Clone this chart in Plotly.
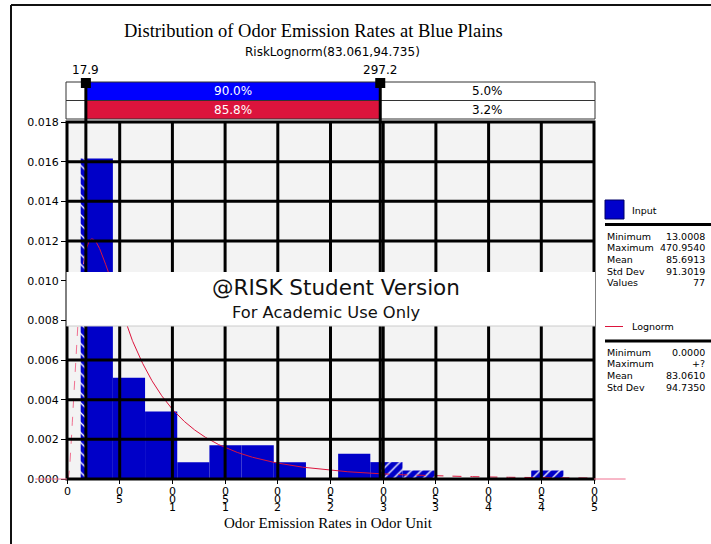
import numpy as np
import plotly.graph_objects as go

# ---------------- data ----------------
hist_min = 13.0008
hist_max = 470.9540
bin_counts = [38, 12, 8, 2, 4, 4, 2, 0, 3, 2, 1, 0, 0, 0, 1]
n_values = 77

fit_mean = 83.061
fit_sd = 94.735

mark_lo = 17.9
mark_hi = 297.2
input_pcts = [5.0, 90.0, 5.0]
fit_pcts = [11.0, 85.8, 3.2]

x_ticks = [0, 50, 100, 150, 200, 250, 300, 350, 400, 450, 500]
x_tick_labels = ["0", "50", "100", "150", "200", "250", "300", "350", "400", "450", "500"]
y_ticks = [0.000, 0.002, 0.004, 0.006, 0.008, 0.010, 0.012, 0.014, 0.016, 0.018]

input_stat_names = ["Minimum", "Maximum", "Mean", "Std Dev", "Values"]
input_stat_vals = ["13.0008", "470.9540", "85.6913", "91.3019", "77"]
fit_stat_names = ["Minimum", "Maximum", "Mean", "Std Dev"]
fit_stat_vals = ["0.0000", "+?", "83.0610", "94.7350"]

title_text = "Distribution of Odor Emission Rates at Blue Plains"
subtitle_text = "RiskLognorm(83.061,94.735)"
xaxis_title = "Odor Emission Rates in Odor Unit"
wm_line1 = "@RISK Student Version"
wm_line2 = "For Academic Use Only"

# ---------------- geometry ----------------
W, H = 711, 544
L, R, T, B = 67, 117, 122, 65
PW, PH = W - L - R, H - T - B
XMIN, XMAX = 0, 500


def px_x(px):
    return (px - L) / PW


def px_y(py):
    return (H - B - py) / PH


def dx(v):
    return (v - XMIN) / (XMAX - XMIN)


SANS = "DejaVu Sans"
SERIF = "Liberation Serif"
BAR_BLUE = "#0000C8"
CRIMSON = "#DC143C"

fig = go.Figure()

# ---------------- histogram ----------------
edges = np.linspace(hist_min, hist_max, len(bin_counts) + 1)
bw = edges[1] - edges[0]
dens = np.array(bin_counts) / (n_values * bw)

solid, left_h, right_h = [], [], []
for i, c in enumerate(bin_counts):
    if c == 0:
        continue
    a, b = edges[i], edges[i + 1]
    s0, s1 = max(a, mark_lo), min(b, mark_hi)
    if s1 > s0:
        solid.append((s0, s1, dens[i]))
    if a < mark_lo:
        left_h.append((a, min(b, mark_lo), dens[i]))
    if b > mark_hi:
        right_h.append((max(a, mark_hi), b, dens[i]))


def add_bars(pieces, pattern=None):
    if not pieces:
        return
    xs = [(p[0] + p[1]) / 2 for p in pieces]
    ws = [p[1] - p[0] for p in pieces]
    ys = [p[2] for p in pieces]
    marker = dict(color=BAR_BLUE, line=dict(width=0))
    if pattern:
        marker["pattern"] = dict(shape=pattern, fgcolor="white", bgcolor=BAR_BLUE,
                                 size=7, solidity=0.18, fillmode="replace")
    fig.add_trace(go.Bar(x=xs, y=ys, width=ws, marker=marker, showlegend=False,
                         hoverinfo="skip"))


add_bars(solid)
add_bars(left_h, "\\")
add_bars(right_h, "/")

# ---------------- lognormal fit ----------------
sig2 = np.log(1 + (fit_sd / fit_mean) ** 2)
sig = np.sqrt(sig2)
mu = np.log(fit_mean) - sig2 / 2
xs = np.linspace(0.05, XMAX, 2000)
pdf = np.exp(-(np.log(xs) - mu) ** 2 / (2 * sig2)) / (xs * sig * np.sqrt(2 * np.pi))
xs = np.concatenate([[0.0], xs])
pdf = np.concatenate([[0.0], pdf])

m_left = xs <= mark_lo
m_mid = (xs >= mark_lo) & (xs <= mark_hi)
m_right = xs >= mark_hi
fig.add_trace(go.Scatter(x=xs[m_left], y=pdf[m_left], mode="lines",
                         line=dict(color="#F07090", width=1, dash="dash"),
                         showlegend=False, hoverinfo="skip"))
fig.add_trace(go.Scatter(x=xs[m_mid], y=pdf[m_mid], mode="lines",
                         line=dict(color=CRIMSON, width=1),
                         showlegend=False, hoverinfo="skip"))
fig.add_trace(go.Scatter(x=xs[m_right], y=pdf[m_right], mode="lines",
                         line=dict(color=CRIMSON, width=1, dash="dash"),
                         showlegend=False, hoverinfo="skip"))

shapes = []
ann = []


def text(x, y, t, size, family=SANS, color="black", xanchor="center", xref="paper",
         yshift=0):
    ann.append(dict(xref=xref, yref="paper", x=x, y=y, text=t, showarrow=False,
                    xanchor=xanchor, yanchor="middle", yshift=yshift,
                    font=dict(family=family, size=size, color=color)))


# grid lines drawn above bars
for v in x_ticks[1:-1]:
    shapes.append(dict(type="line", xref="x", yref="paper", x0=v, x1=v, y0=0, y1=1,
                       line=dict(color="black", width=3), layer="above"))
for v in y_ticks[1:-1]:
    shapes.append(dict(type="line", xref="paper", yref="y", x0=0, x1=1, y0=v, y1=v,
                       line=dict(color="black", width=3), layer="above"))
# frame
shapes.append(dict(type="rect", xref="paper", yref="paper", x0=0, x1=1, y0=0, y1=1,
                   line=dict(color="black", width=3), layer="above"))

# ---------------- percentile band ----------------
r1_top, r1_bot = px_y(82), px_y(100.5)
r2_top, r2_bot = px_y(100.5), px_y(119)
bx_l, bx_lo, bx_hi, bx_r = px_x(66), dx(mark_lo), dx(mark_hi), px_x(595)
for (top, bot, col, pcts) in [(r1_top, r1_bot, "#0000FF", input_pcts),
                              (r2_top, r2_bot, CRIMSON, fit_pcts)]:
    shapes.append(dict(type="rect", xref="paper", yref="paper", x0=bx_l, x1=bx_lo,
                       y0=bot, y1=top, fillcolor="white",
                       line=dict(color="#333333", width=1), layer="above"))
    shapes.append(dict(type="rect", xref="paper", yref="paper", x0=bx_lo, x1=bx_hi,
                       y0=bot, y1=top, fillcolor=col,
                       line=dict(color="#333333", width=1), layer="above"))
    shapes.append(dict(type="rect", xref="paper", yref="paper", x0=bx_hi, x1=bx_r,
                       y0=bot, y1=top, fillcolor="white",
                       line=dict(color="#333333", width=1), layer="above"))
    ym = (top + bot) / 2
    text((bx_lo + bx_hi) / 2, ym, f"{pcts[1]:.1f}%", 12, color="white")
    text((bx_hi + bx_r) / 2, ym, f"{pcts[2]:.1f}%", 12)

# marker lines and squares
for m in (mark_lo, mark_hi):
    shapes.append(dict(type="line", xref="x", yref="paper", x0=m, x1=m,
                       y0=0, y1=px_y(82), line=dict(color="black", width=3),
                       layer="above"))
    shapes.append(dict(type="rect", xref="x", yref="paper", xsizemode="pixel",
                       xanchor=m, x0=-5, x1=5, y0=px_y(88), y1=px_y(78),
                       fillcolor="black", line=dict(width=0), layer="above"))
    text(m, px_y(70), f"{m:.1f}", 12, xref="x")

# ---------------- watermark box ----------------
shapes.append(dict(type="rect", xref="paper", yref="paper", x0=px_x(66.5), x1=px_x(595),
                   y0=px_y(326), y1=px_y(272), fillcolor="white", line=dict(width=0),
                   layer="above"))
shapes.append(dict(type="line", xref="paper", yref="paper", x0=px_x(66.5), x1=px_x(595),
                   y0=px_y(326), y1=px_y(326), line=dict(color="#CCCCCC", width=1),
                   layer="above"))
text(px_x(336), px_y(287), wm_line1, 21.5, color="#111111")
text(px_x(326), px_y(312), wm_line2, 16.3, color="#111111")

# ---------------- titles ----------------
text(px_x(313), px_y(31), title_text, 18.5, family=SERIF)
text(px_x(332), px_y(52), subtitle_text, 12)
text(px_x(328), px_y(523), xaxis_title, 15, family=SERIF)

# x tick labels: characters stacked upright, reading bottom-to-top
for v, lab in zip(x_ticks, x_tick_labels):
    for i, ch in enumerate(reversed(lab)):
        text(v, 0, ch, 11, xref="x", yshift=-(12.5 + 8 * i))

# ---------------- legend panel ----------------
LF = 9.5
lx0, lx1 = px_x(605), px_x(711)
shapes.append(dict(type="rect", xref="paper", yref="paper", x0=px_x(605), x1=px_x(624),
                   y0=px_y(219), y1=px_y(200), fillcolor="#0000CC",
                   line=dict(color="#000066", width=1)))
text(px_x(630), px_y(210), "Input", LF, xanchor="left")
shapes.append(dict(type="line", xref="paper", yref="paper", x0=lx0, x1=lx1,
                   y0=px_y(224.5), y1=px_y(224.5), line=dict(color="black", width=3)))
for j, (n, v) in enumerate(zip(input_stat_names, input_stat_vals)):
    yy = px_y(236 + 11.7 * j)
    text(px_x(605), yy, n, LF, xanchor="left")
    text(px_x(707), yy, v, LF, xanchor="right")

shapes.append(dict(type="line", xref="paper", yref="paper", x0=px_x(605), x1=px_x(623),
                   y0=px_y(326.5), y1=px_y(326.5), line=dict(color=CRIMSON, width=1)))
text(px_x(630), px_y(326.5), "Lognorm", LF, xanchor="left")
shapes.append(dict(type="line", xref="paper", yref="paper", x0=lx0, x1=lx1,
                   y0=px_y(341), y1=px_y(341), line=dict(color="black", width=3)))
for j, (n, v) in enumerate(zip(fit_stat_names, fit_stat_vals)):
    yy = px_y(352 + 11.7 * j)
    text(px_x(605), yy, n, LF, xanchor="left")
    text(px_x(707), yy, v, LF, xanchor="right")

# curve continuing at zero outside the axis range
shapes.append(dict(type="line", xref="paper", yref="paper", x0=dx(-30), x1=dx(0),
                   y0=0, y1=0, line=dict(color="#F07090", width=1)))
shapes.append(dict(type="line", xref="paper", yref="paper", x0=dx(500), x1=dx(530),
                   y0=0, y1=0, line=dict(color="#F07090", width=1)))

# outer border (left and top)
shapes.append(dict(type="line", xref="paper", yref="paper", x0=px_x(11), x1=px_x(11),
                   y0=px_y(5), y1=px_y(560), line=dict(color="#111111", width=2)))
shapes.append(dict(type="line", xref="paper", yref="paper", x0=px_x(11), x1=px_x(720),
                   y0=px_y(5), y1=px_y(5), line=dict(color="#111111", width=2)))

fig.update_layout(
    width=W, height=H,
    margin=dict(l=L, r=R, t=T, b=B, pad=0),
    paper_bgcolor="white",
    plot_bgcolor="#F3F3F3",
    barmode="overlay",
    showlegend=False,
    shapes=shapes,
    annotations=ann,
    xaxis=dict(range=[XMIN, XMAX], tickvals=x_ticks, showticklabels=False,
               showgrid=False, zeroline=False, ticks="outside", ticklen=4,
               tickwidth=1, tickcolor="black", showline=False),
    yaxis=dict(range=[0, 0.018], tickvals=y_ticks, tickformat=".3f",
               showgrid=False, zeroline=False, ticks="outside", ticklen=5,
               tickwidth=1, tickcolor="black", showline=True, linecolor="#333333",
               linewidth=1, tickfont=dict(family=SANS, size=11, color="black")),
)

fig.write_html("out.html")
